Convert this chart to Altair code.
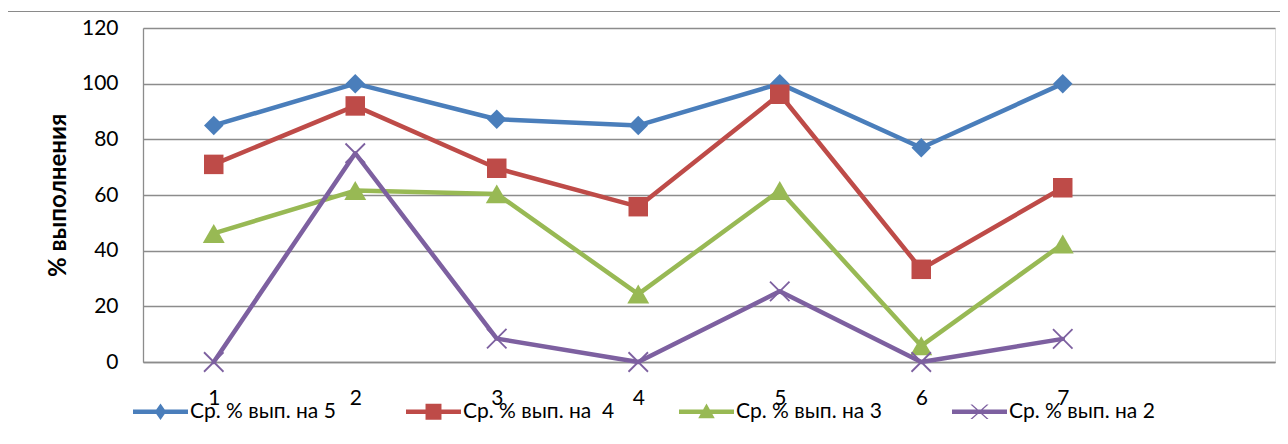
import altair as alt
import pandas as pd

categories = [1, 2, 3, 4, 5, 6, 7]
s5 = [85, 100, 87.2, 85, 100, 77, 100]
s4 = [71, 92, 69.6, 55.8, 96.2, 33.3, 62.6]
s3 = [46.2, 61.6, 60.4, 24.4, 61.6, 5.8, 42.4]
s2 = [0, 75, 8.4, 0, 25.4, 0, 8.3]

series_keys = ["s5", "s4", "s3", "s2"]
series_labels = ["Ср. % вып. на 5", "Ср. % вып. на\u00a0 4", "Ср. % вып. на 3", "Ср. % вып. на 2"]
series_values = [s5, s4, s3, s2]
colors = ["#4A7EBB", "#BE4B48", "#98B954", "#7D60A0"]
y_ticks = [0, 20, 40, 60, 80, 100, 120]

rows = []
for k, vals in zip(series_keys, series_values):
    for c, v in zip(categories, vals):
        rows.append({"category": c, "value": v, "series": k})
df = pd.DataFrame(rows)

FONT = "Lato"
GRID = "#8C8C8C"

x_enc = alt.X(
    "category:Q",
    scale=alt.Scale(domain=[0.5, 8.5], nice=False, zero=False),
    axis=alt.Axis(values=categories, format="d", title=None, grid=False, ticks=False,
                  tickSize=0, labelPadding=25, domainColor=GRID, domainWidth=1.3,
                  labelFont=FONT, labelFontSize=21, labelColor="black"),
)
y_enc = alt.Y(
    "value:Q",
    scale=alt.Scale(domain=[0, 120], nice=False),
    axis=alt.Axis(values=y_ticks, title="% выполнения", grid=True, gridColor=GRID,
                  gridWidth=1.3, ticks=False, tickSize=0, labelPadding=25,
                  domainColor=GRID, domainWidth=1.3, labelFont=FONT, labelFontSize=21,
                  labelColor="black", titleFont=FONT, titleFontSize=24,
                  titleFontWeight="bold", titleColor="black", titlePadding=11),
)

legend_paths = {
    "s5": "M-1,-0.08H1V0.08H-1Z M0,-0.3L0.21,0L0,0.3L-0.21,0Z",
    "s4": "M-1,-0.08H1V0.08H-1Z M-0.29,-0.29H0.29V0.29H-0.29Z",
    "s3": "M-1,-0.08H1V0.08H-1Z M0,-0.3L0.3,0.24L-0.3,0.24Z",
    "s2": ("M-1,-0.08H1V0.08H-1Z M-0.33,-0.26L-0.26,-0.26L0.33,0.26L0.26,0.26Z "
           "M0.26,-0.26L0.33,-0.26L-0.26,0.26L-0.33,0.26Z"),
}
sym_expr = (
    f"datum.value == 's5' ? '{legend_paths['s5']}' : "
    f"datum.value == 's4' ? '{legend_paths['s4']}' : "
    f"datum.value == 's3' ? '{legend_paths['s3']}' : '{legend_paths['s2']}'"
)
label_expr = " : ".join(
    f"datum.value == '{k}' ? '{lab}'" for k, lab in zip(series_keys[:-1], series_labels[:-1])
) + f" : '{series_labels[-1]}'"

legend = alt.Legend(
    orient="none", legendX=-10, legendY=356, direction="horizontal", title=None,
    symbolType=alt.ExprRef(expr=sym_expr), symbolSize=3025, symbolStrokeWidth=0,
    symbolOpacity=1, labelExpr=label_expr, labelFont=FONT, labelFontSize=21,
    labelColor="black", labelOffset=2, columnPadding=64, gridAlign="all",
    labelLimit=400, padding=0,
)

marker_shapes = ["diamond", "square", "triangle-up", "M-1,-1L1,1M-1,1L1,-1"]
marker_sizes = [380, 380, 480, 380]

layers = []
frame = alt.Chart(pd.DataFrame({"f": [0]})).mark_rect(
    fillOpacity=0, stroke="#8A8A8A", strokeWidth=1.2
).encode(x=alt.value(-136), x2=alt.value(1400), y=alt.value(-16.5), y2=alt.value(700))
layers.append(frame)

for i, k in enumerate(series_keys):
    sub = df[df["series"] == k]
    line = alt.Chart(sub).mark_line(
        color=colors[i], strokeWidth=4.5, strokeCap="round", strokeJoin="round"
    ).encode(x=x_enc, y=y_enc)
    layers.append(line)
    if i < 3:
        pt = alt.Chart(sub).mark_point(
            filled=True, shape=marker_shapes[i], size=marker_sizes[i], opacity=1,
            strokeWidth=0,
        )
    else:
        pt = alt.Chart(sub).mark_point(
            filled=False, shape=marker_shapes[i], size=marker_sizes[i], opacity=1,
            strokeWidth=1.8, color=colors[i],
        )
    if i == 0:
        pt = pt.encode(
            x=x_enc, y=y_enc,
            color=alt.Color("series:N", scale=alt.Scale(domain=series_keys, range=colors),
                            legend=legend),
        )
    else:
        pt = pt.encode(x=x_enc, y=y_enc, color=alt.value(colors[i]))
    layers.append(pt)

chart = alt.layer(*layers).properties(
    width=1132, height=334,
    autosize=alt.AutoSizeParams(type="none"),
    padding={"left": 135, "top": 20, "right": 5, "bottom": 70},
).configure_view(stroke=None).configure(background="white")

chart.save("out.html", embed_options={"renderer": "svg", "actions": False})
